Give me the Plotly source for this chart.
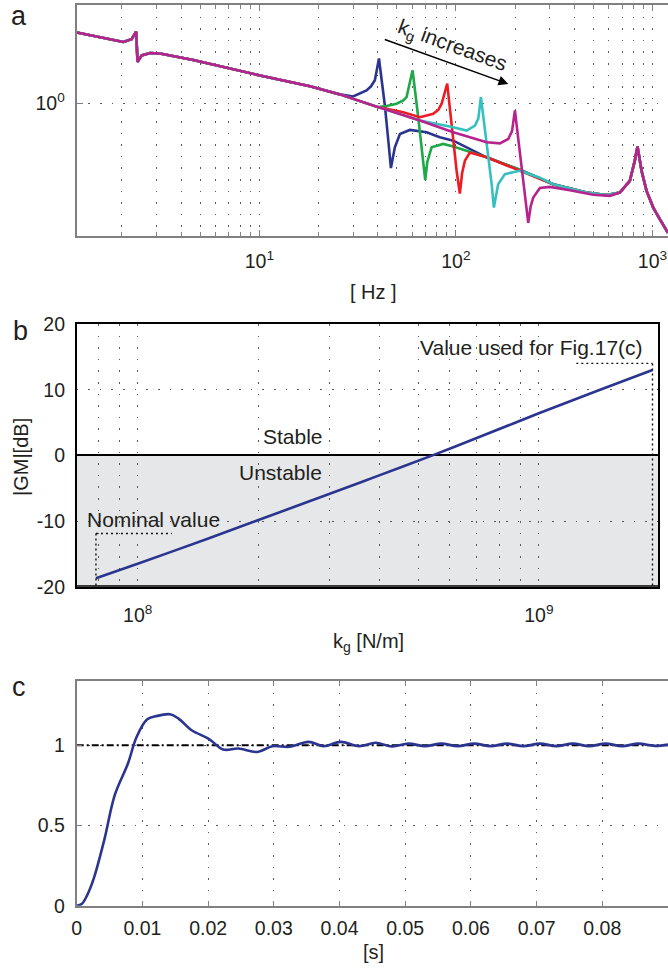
import plotly.graph_objects as go

# ---------------- Panel a : FRF magnitude for increasing k_g ----------------
freq_low = [1.18, 1.55, 2.03, 2.24, 2.36, 2.40, 2.52, 2.78, 3.12, 4.61, 10.07, 18.1, 25.7]
mag_low = [2.02, 1.93, 1.84, 1.89, 2.04, 1.51, 1.61, 1.65, 1.64, 1.54, 1.32, 1.185, 1.094]

freq_tail = [682, 767, 813, 839, 880, 933, 1009, 1091, 1199]
mag_tail = [0.413, 0.464, 0.567, 0.653, 0.513, 0.420, 0.356, 0.317, 0.277]

freq_blue = [30.0, 35.1, 37.0, 38.7, 40.6, 43.5, 45.3, 46.7, 48.9, 51.9, 58.3, 70.9, 82.8, 96.9, 143.3, 211.3, 312.6, 462, 584]
mag_blue = [1.072, 1.138, 1.185, 1.258, 1.562, 0.980, 0.691, 0.527, 0.647, 0.739, 0.769, 0.751, 0.715, 0.691, 0.586, 0.518, 0.449, 0.413, 0.403]

freq_green = [40.2, 44.4, 49.9, 54.0, 56.1, 60.2, 64.3, 66.9, 69.8, 71.5, 73.8, 75.2, 86.1, 96.9, 143.3, 211.3, 312.6, 462, 584]
mag_green = [0.964, 0.975, 0.997, 1.030, 1.065, 1.389, 0.872, 0.626, 0.468, 0.560, 0.606, 0.647, 0.669, 0.652, 0.586, 0.518, 0.449, 0.413, 0.403]

freq_red = [40.2, 53.9, 65.6, 76.7, 81.5, 84.6, 90.3, 96.9, 100.8, 104.7, 107.5, 111.1, 117.8, 143.3, 211.3, 312.6, 462, 584]
mag_red = [0.964, 0.917, 0.872, 0.902, 0.940, 0.997, 1.217, 0.691, 0.513, 0.409, 0.500, 0.567, 0.615, 0.586, 0.515, 0.449, 0.413, 0.403]

freq_cyan = [40.2, 65.6, 96.9, 113.4, 125, 130, 134, 146, 152, 156, 160, 164, 177.5, 211.3, 267.5, 312.6, 462, 584]
mag_cyan = [0.964, 0.844, 0.790, 0.764, 0.803, 0.860, 1.065, 0.606, 0.449, 0.356, 0.410, 0.449, 0.496, 0.513, 0.479, 0.449, 0.413, 0.403]

freq_magenta = [40.2, 65.6, 96.9, 143.3, 167.4, 184.6, 193.0, 199.6, 216, 233.3, 240, 247.4, 267.5, 300.6, 380, 499, 607]
mag_magenta = [0.964, 0.844, 0.751, 0.680, 0.673, 0.703, 0.760, 0.933, 0.530, 0.306, 0.360, 0.393, 0.432, 0.437, 0.423, 0.404, 0.400]

# ---------------- Panel b : gain margin vs k_g ----------------
kg_values = [7.87e7, 1.0e8, 1.5e8, 2.0e8, 3.0e8, 4.0e8, 5.43e8, 7.0e8, 1.0e9, 1.4e9, 1.92e9]
gm_db = [-18.7, -16.5, -12.66, -9.85, -5.89, -3.05, 0.0, 2.64, 6.4, 9.83, 13.0]
nominal_kg = [7.87e7, 1.216e8]
nominal_db = -11.9
used_kg = [1.24e9, 1.92e9]
used_db = 14.0

# ---------------- Panel c : step response ----------------
t_s = [0, 0.0008, 0.0016, 0.0026, 0.0042, 0.0058, 0.0078, 0.0091, 0.0107, 0.012, 0.0142,
       0.0155, 0.0175, 0.0201, 0.0223, 0.0246, 0.0275, 0.0298, 0.0324, 0.0353, 0.0376,
       0.0402, 0.043, 0.0455, 0.048, 0.0505, 0.053, 0.0555, 0.058, 0.0605, 0.063, 0.0655,
       0.068, 0.0705, 0.073, 0.0755, 0.078, 0.0805, 0.083, 0.0855, 0.088, 0.09]
resp = [0, 0.012, 0.066, 0.17, 0.41, 0.69, 0.886, 1.05, 1.16, 1.18, 1.193,
        1.166, 1.093, 1.04, 0.973, 0.979, 0.958, 0.994, 0.990, 1.021, 0.994,
        1.021, 0.994, 1.015, 0.992, 1.010, 0.994, 1.010, 0.994, 1.010, 0.994, 1.010,
        0.994, 1.010, 0.994, 1.010, 0.994, 1.010, 0.994, 1.010, 0.996, 1.004]
ref_t = [0, 0.09]
ref_v = [1, 1]

W, H = 668, 970
FONT = "Liberation Sans, Arial, Helvetica, sans-serif"
TXT = "#231f20"
GRID = "#5a5a5a"
GDASH = "1.6px,10px"

def px(x):
    return x / W

def py(y):
    return 1 - y / H

fig = go.Figure()

series = [
    (freq_blue, mag_blue, "#2b3590"),
    (freq_green, mag_green, "#1fa84a"),
    (freq_red, mag_red, "#ed1c24"),
    (freq_cyan, mag_cyan, "#35bfbf"),
    (freq_magenta, mag_magenta, "#b8228e"),
]
for fr, mg, col in series:
    fig.add_trace(go.Scatter(x=freq_low + fr + freq_tail, y=mag_low + mg + mag_tail,
                             mode="lines", line=dict(color=col, width=2.6),
                             xaxis="x", yaxis="y", showlegend=False))

fig.add_trace(go.Scatter(x=kg_values, y=gm_db, mode="lines", line_shape="spline",
                         line=dict(color="#2b3590", width=2.6),
                         xaxis="x2", yaxis="y2", showlegend=False))
dotline = dict(color="#111", width=1.4, dash="2px,3px")
fig.add_trace(go.Scatter(x=nominal_kg, y=[nominal_db, nominal_db], mode="lines", line=dotline,
                         xaxis="x2", yaxis="y2", showlegend=False))
fig.add_trace(go.Scatter(x=[nominal_kg[0], nominal_kg[0]], y=[nominal_db, -20], mode="lines", line=dotline,
                         xaxis="x2", yaxis="y2", showlegend=False))
fig.add_trace(go.Scatter(x=used_kg, y=[used_db, used_db], mode="lines", line=dotline,
                         xaxis="x2", yaxis="y2", showlegend=False))
fig.add_trace(go.Scatter(x=[used_kg[1], used_kg[1]], y=[used_db, -20], mode="lines", line=dotline,
                         xaxis="x2", yaxis="y2", showlegend=False))

fig.add_trace(go.Scatter(x=ref_t, y=ref_v, mode="lines",
                         line=dict(color="#000", width=2, dash="7px,3px,2px,3px"),
                         xaxis="x3", yaxis="y3", showlegend=False))
fig.add_trace(go.Scatter(x=t_s, y=resp, mode="lines", line_shape="spline",
                         line=dict(color="#2b3590", width=2.6),
                         xaxis="x3", yaxis="y3", showlegend=False))

tickfont = dict(family=FONT, size=19.5, color=TXT)
minor_a = [2, 3, 4, 5, 6, 7, 8, 9, 20, 30, 40, 50, 60, 70, 80, 90, 200, 300, 400, 500, 600, 700, 800, 900]
minor_b = [8e7, 9e7, 2e8, 3e8, 4e8, 5e8, 6e8, 7e8, 8e8, 9e8]

fig.update_layout(
    width=W, height=H, margin=dict(l=0, r=0, t=0, b=0),
    paper_bgcolor="white", plot_bgcolor="white", showlegend=False,
    font=dict(family=FONT, color=TXT),
    xaxis=dict(type="log", domain=[px(76.7), 1.0], range=[0.0707, 3.079], anchor="y",
               tickvals=[10, 100, 1000], ticktext=["10<sup>1</sup>", "10<sup>2</sup>", "10<sup>3</sup>"],
               ticks="inside", ticklen=6, tickcolor="#808080", tickfont=tickfont,
               ticklabelstandoff=7,
               showline=True, linecolor="#808080", linewidth=2, mirror="ticks",
               showgrid=True, gridcolor=GRID, griddash=GDASH, gridwidth=1,
               minor=dict(tickvals=minor_a, ticks="inside", ticklen=4, tickcolor="#808080",
                          showgrid=True, gridcolor=GRID, griddash=GDASH, gridwidth=1),
               zeroline=False, automargin=False),
    yaxis=dict(type="log", domain=[py(236), py(5)], range=[-0.571, 0.424], anchor="x",
               tickvals=[1], ticktext=["10<sup>0</sup>"], ticks="inside", ticklen=6,
               tickcolor="#808080", tickfont=tickfont, ticklabelstandoff=6,
               showline=True, linecolor="#808080", linewidth=2, mirror=False,
               showgrid=True, gridcolor=GRID, griddash=GDASH, gridwidth=1,
               zeroline=False, automargin=False),
    xaxis2=dict(type="log", domain=[px(76.7), px(658)], range=[7.848, 9.297], anchor="y2",
                tickvals=[1e8, 1e9], ticktext=["10<sup>8</sup>", "10<sup>9</sup>"],
                ticks="", tickfont=tickfont, ticklabelstandoff=10,
                showline=True, linecolor="#000", linewidth=1.5, mirror=True,
                showgrid=True, gridcolor=GRID, griddash=GDASH, gridwidth=1,
                minor=dict(tickvals=minor_b, ticks="", showgrid=True, gridcolor=GRID,
                           griddash=GDASH, gridwidth=1),
                zeroline=False, automargin=False),
    yaxis2=dict(domain=[py(586.7), py(324)], range=[-20, 20], anchor="x2",
                tickvals=[-20, -10, 0, 10, 20], ticktext=["-20", "-10", "0", "10", "20"],
                ticks="", tickfont=tickfont, ticklabelstandoff=6,
                showline=True, linecolor="#000", linewidth=1.5, mirror=True,
                showgrid=True, gridcolor=GRID, griddash=GDASH, gridwidth=1,
                zeroline=True, zerolinecolor="#000", zerolinewidth=1.5, automargin=False),
    xaxis3=dict(domain=[px(76.7), 1.0], range=[0, 0.09], anchor="y3",
                tickvals=[0, 0.01, 0.02, 0.03, 0.04, 0.05, 0.06, 0.07, 0.08],
                ticktext=["0", "0.01", "0.02", "0.03", "0.04", "0.05", "0.06", "0.07", "0.08"],
                ticks="inside", ticklen=5, tickcolor="#808080", tickfont=tickfont,
                ticklabelstandoff=4,
                showline=True, linecolor="#808080", linewidth=2, mirror="ticks",
                showgrid=True, gridcolor=GRID, griddash=GDASH, gridwidth=1,
                zeroline=False, automargin=False),
    yaxis3=dict(domain=[py(905.7), py(681)], range=[0, 1.4], anchor="x3",
                tickvals=[0, 0.5, 1], ticktext=["0", "0.5", "1"],
                ticks="inside", ticklen=5, tickcolor="#808080", tickfont=tickfont,
                ticklabelstandoff=6,
                showline=True, linecolor="#808080", linewidth=2, mirror=False,
                showgrid=True, gridcolor=GRID, griddash=GDASH, gridwidth=1,
                zeroline=False, automargin=False),
)

# shaded unstable region
fig.add_shape(type="rect", xref="x2 domain", yref="y2", x0=0, x1=1, y0=-20, y1=0,
              fillcolor="#e6e7e8", line=dict(width=0), layer="below")
fig.add_shape(type="line", xref="x2 domain", yref="y2", x0=0, x1=1, y0=-20, y1=-20,
              line=dict(color="#000", width=3), layer="above")

def ann(text, x, y, size=20, **kw):
    d = dict(text=text, x=px(x), y=py(y), xref="paper", yref="paper", showarrow=False,
             font=dict(family=FONT, size=size, color=TXT), xanchor="center", yanchor="middle")
    d.update(kw)
    fig.add_annotation(**d)

ann("a", 19, 16, size=27)
ann("b", 20, 331, size=27)
ann("c", 19, 687, size=27)
ann("[ Hz ]", 373, 292)
ann("|GM|[dB]", 21, 457, textangle=-90)
ann("k<sub>g</sub> [N/m]", 368, 642)
ann("[s]", 373, 952)
ann("Stable", 293, 437, size=21)
ann("Unstable", 280, 472, size=21)
ann("Nominal value", 85, 519, size=21, xanchor="left")
ann("Value used for Fig.17(c)", 645, 347, size=21, xanchor="right")
ann("k<sub>g</sub> increases", 452, 46, size=21, textangle=20)

fig.add_annotation(x=px(508.3), y=py(84), xref="paper", yref="paper",
                   ax=-125, ay=-45, axref="pixel", ayref="pixel", text="",
                   showarrow=True, arrowhead=2, arrowsize=1.3, arrowwidth=1.5, arrowcolor="#000")

# the page body's default 8px margin would shift the figure; remove it
fig.write_html("out.html", config={"displayModeBar": False},
               post_script="document.body.style.margin='0px';document.body.style.overflow='hidden';")
